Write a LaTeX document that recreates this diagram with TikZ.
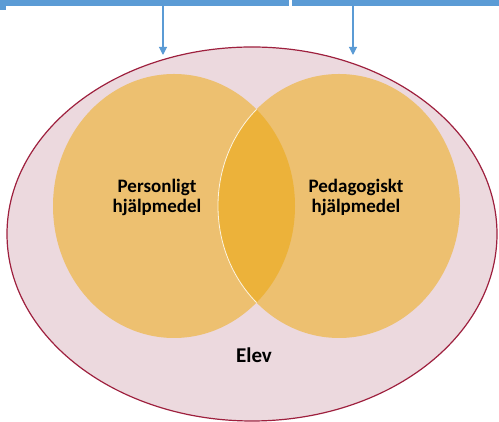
\documentclass[tikz,border=0pt]{standalone}
\usepackage{fontspec}
\setmainfont{Carlito}
\usetikzlibrary{arrows.meta}

\definecolor{barblue}{RGB}{91,155,213}
\definecolor{elevfill}{RGB}{236,217,222}
\definecolor{elevline}{RGB}{158,32,62}
\definecolor{aidfill}{RGB}{237,192,112}
\definecolor{lensfill}{RGB}{236,178,58}

\tikzset{
  bar/.style = {fill = barblue, draw = none},
  feed/.style = {draw = barblue, line width = 1.1pt, -{Triangle[width = 8pt, length = 8pt]}},
  label/.style = {font = \bfseries\fontsize{19}{20}\selectfont, align = center, text = black}
}

\begin{document}
\begin{tikzpicture}[x = 1pt, y = 1pt]
\useasboundingbox (0,0) rectangle (499,422);

% boxes at the top
\fill[bar] (0,416) rectangle (289,422);
\fill[bar] (0,412) rectangle (6,416);
\fill[bar] (292,416) rectangle (499,422);

\coordinate (fromL) at (163,416);
\coordinate (toL) at (163,367);
\coordinate (fromR) at (353,416);
\coordinate (toR) at (353,367);
\draw[feed] (fromL) -- (toL);
\draw[feed] (fromR) -- (toR);

% pupil
\filldraw[fill = elevfill, draw = elevline, line width = 1.2pt] (252,188) ellipse (245 and 187);

% the two aids
\fill[aidfill] (174,216) ellipse (121 and 132);
\fill[aidfill] (339,216) ellipse (121 and 132);
\begin{scope}
\clip (174,216) ellipse (121 and 132);
\fill[lensfill] (339,216) ellipse (121 and 132);
\draw[white!85!lensfill, line width = .8pt] (339,216) ellipse (121 and 132);
\end{scope}

\node[label] (personligt) at (157,225) {Personligt\\hjälpmedel};
\node[label] (pedagogiskt) at (356,225) {Pedagogiskt\\hjälpmedel};
\node[label, font = \bfseries\fontsize{21}{22}\selectfont] (elev) at (254,67) {Elev};
\end{tikzpicture}
\end{document}
